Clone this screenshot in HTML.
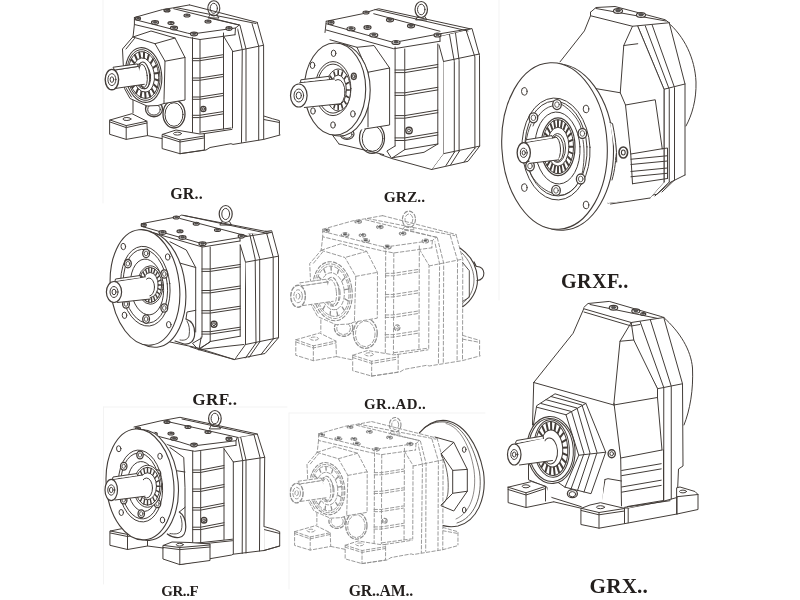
<!DOCTYPE html>
<html><head><meta charset="utf-8"><style>
html,body{margin:0;padding:0;background:#fff;width:800px;height:600px;overflow:hidden}
svg{position:absolute;left:0;top:0;filter:blur(0.35px)}
path,ellipse{vector-effect:non-scaling-stroke}
.lbl{font-family:"Liberation Serif",serif;font-weight:bold;fill:#231f1d}
</style></head><body>
<svg width="800" height="600" viewBox="0 0 800 600">
<g fill="none" stroke="#433d39" stroke-width="1" stroke-linejoin="round" stroke-linecap="round">
<path d="M263.7,116 L272.5,118.7 L279.4,120.6 L279.4,134.4 M263.7,119.5 L279.4,122.5"/>
<path d="M232.5,51.6 L237,26 L239.25,25 L257.25,22.4 L263.6,45.6 L263.7,139.4 L233,144.4Z" fill="#fff" stroke="none"/>
<path d="M257.25,22.4 L263.6,45.6 L263.7,139.4 M237,26 L242.25,49.75 L241.5,142.5 M240,25.4 L246,49 L246,141 M252,23.5 L258.75,46.4 L258.7,140 M232.5,51.6 L263.6,45.25"/>
<path d="M134.4,17.5 L162.4,9.6 L172.9,7.9 L189.5,4.9 L221.25,12.25 L257.25,22.4 L239.25,25 L235,34.75 L223.5,36.6 L232.5,51.6 L232.5,128 L200,132.5 L192.5,133 L133,113 L133,37Z" fill="#fff" stroke="none"/>
<path d="M134.4,17.5 L162.4,9.6 L172.9,7.9 L189.5,4.9 M133,37 L133,113 M134.4,17.5 L134.4,24.5 L189.5,37.6 L200,39.5 L235,34.75 M134.4,19.5 L187.7,33.2 L192,34 L235.5,28 L239.25,25 M173.7,8.7 L239.25,25 M189.5,4.9 L257.25,22.4 M175.5,7.5 L256,23.5 M210,18.25 L239.25,25 M235.5,28 L235,34.75"/>
<path d="M192.5,37.6 L192.5,133 M200,39.5 L200,133 M223.5,33 L223.5,129 M223.5,36 L232.5,51 L232.5,128 M134.4,24.5 L133,37"/>
<path d="M192.3,58.4 L199.7,58.4 L222.6,54.8 M192.3,60.7 L199.7,60.7 L222.6,57.1 M192.3,78 L199.7,78 L222.6,74.4 M192.3,80.3 L199.7,80.3 L222.6,76.7 M192.3,97 L199.7,97 L222.6,93.4 M192.3,99.3 L199.7,99.3 L222.6,95.7 M192.3,115.3 L199.7,115.3 L222.6,111.7 M192.3,117.6 L199.7,117.6 L222.6,114"/>
<ellipse cx="203.3" cy="108.9" rx="2.6" ry="2.6" stroke-width="1.3"/>
<ellipse cx="203.3" cy="108.9" rx="1.2" ry="1.2"/>
<ellipse cx="138" cy="18.5" rx="2.5" ry="1.6" fill="#fff" stroke-width="1.2"/>
<ellipse cx="138" cy="18.2" rx="1.38" ry="0.88" fill="#555" stroke-width="0.6"/>
<ellipse cx="155" cy="22.5" rx="3.5" ry="1.8" fill="#fff" stroke-width="1.2"/>
<ellipse cx="155" cy="22.2" rx="1.93" ry="0.99" fill="#555" stroke-width="0.6"/>
<ellipse cx="171" cy="23" rx="3" ry="1.5" fill="#fff" stroke-width="1.2"/>
<ellipse cx="171" cy="22.7" rx="1.65" ry="0.83" fill="#555" stroke-width="0.6"/>
<ellipse cx="174" cy="28" rx="3.5" ry="1.8" fill="#fff" stroke-width="1.2"/>
<ellipse cx="174" cy="27.7" rx="1.93" ry="0.99" fill="#555" stroke-width="0.6"/>
<ellipse cx="167" cy="10.5" rx="3" ry="1.4" fill="#fff" stroke-width="1.2"/>
<ellipse cx="167" cy="10.2" rx="1.65" ry="0.77" fill="#555" stroke-width="0.6"/>
<ellipse cx="187" cy="15.5" rx="3" ry="1.5" fill="#fff" stroke-width="1.2"/>
<ellipse cx="187" cy="15.2" rx="1.65" ry="0.83" fill="#555" stroke-width="0.6"/>
<ellipse cx="208" cy="21.5" rx="3" ry="1.5" fill="#fff" stroke-width="1.2"/>
<ellipse cx="208" cy="21.2" rx="1.65" ry="0.83" fill="#555" stroke-width="0.6"/>
<ellipse cx="194" cy="34" rx="3.5" ry="1.8" fill="#fff" stroke-width="1.2"/>
<ellipse cx="194" cy="33.7" rx="1.93" ry="0.99" fill="#555" stroke-width="0.6"/>
<ellipse cx="229" cy="28.5" rx="3" ry="1.8" fill="#fff" stroke-width="1.2"/>
<ellipse cx="229" cy="28.2" rx="1.65" ry="0.99" fill="#555" stroke-width="0.6"/>
<ellipse cx="213.8" cy="8.3" rx="6" ry="7.6" stroke-width="1.1"/>
<ellipse cx="213.8" cy="8.3" rx="3.6" ry="5"/>
<path d="M210,15 L208,18 L219,18 L217,15"/>
<ellipse cx="174" cy="114" rx="11" ry="14" fill="#fff" stroke-width="1.3"/>
<ellipse cx="174" cy="114.5" rx="9" ry="11.8"/>
<ellipse cx="154" cy="109" rx="8.5" ry="7.75" fill="#fff" stroke-width="1.3"/>
<ellipse cx="154" cy="109.5" rx="6.3" ry="5.6"/>
<path d="M110,120 L131.9,113.7 L146.9,121.2 L147.5,135.6 L126.2,139.4 L110,134.4Z" fill="#fff"/>
<path d="M110,120 L126.2,125.6 L146.9,121.2 M126.2,125.6 L126.2,139.4 M110,122 L126.2,127.6 L147,123"/>
<ellipse cx="126.9" cy="119" rx="4" ry="1.5"/>
<path d="M147.5,135.6 L162.5,138.7"/>
<path d="M162.5,134.4 L176,130 L200,134 L204.4,133.7 L204.4,150 L180,153.7 L162.5,148.7Z" fill="#fff"/>
<path d="M162.5,134.4 L180,140 L204.4,136 M180,140 L180,153.7 M162.5,136.5 L180,142 L204,138"/>
<ellipse cx="177.5" cy="133.6" rx="4" ry="1.5"/>
<path d="M180,153.7 L206,150 L210,147.5 L231,143.7 L233,144.4 L263.7,139.4 L280,135 M200.6,132 L231,128 M203.7,133.7 L231.9,129.4"/>
<path d="M133,37 L151,31 L175,38 L185,57.5 L185,100 L164,103.5 L158,105.5 L147,106 L138,102 L130,98.5 L124.5,88.5 L122.5,49.4Z" fill="#fff"/>
<path d="M133,37 L155,43.7 L165,61.2 L164,99.5 L164,103.5 M175,38 L155,43.7 M165,61.2 L185,57.5 M126,49 L134.5,38.5 M126,88 L131.5,97"/>
<ellipse cx="143.6" cy="75" rx="18" ry="27.5" fill="#fff" stroke-width="1.1" transform="rotate(-8 143.6 75)"/>
<ellipse cx="143.6" cy="75" rx="16.3" ry="25.5" transform="rotate(-8 143.6 75)"/>
<ellipse cx="143.6" cy="75" rx="15" ry="23.5" transform="rotate(-8 143.6 75)"/>
<path d="M158.06,72.97 L154.29,73.5 M158.31,80.47 L154.49,79.11 M156.98,87.39 L153.51,84.28 M154.19,92.96 L151.45,88.44 M150.25,96.58 L148.55,91.14 M145.6,97.87 L145.1,92.1 M140.72,96.67 L141.5,91.2 M136.16,93.13 L138.12,88.55 M132.41,87.63 L135.33,84.43 M129.87,80.75 L133.44,79.29 M128.81,73.26 L132.66,73.68 M129.36,65.95 L133.05,68.22 M131.45,59.62 L134.6,63.49 M134.86,54.96 L137.11,60.01 M139.22,52.47 L140.33,58.15 M144.05,52.42 L143.9,58.12 M148.83,54.82 L147.45,59.92 M153.04,59.41 L150.57,63.35 M156.24,65.68 L152.94,68.05" stroke-width="2.0"/>
<ellipse cx="143.6" cy="75" rx="10.8" ry="17.2" fill="#fff" transform="rotate(-8 143.6 75)"/>
<ellipse cx="142.6" cy="76" rx="8" ry="13" transform="rotate(-8 142.6 76)"/>
<ellipse cx="141.6" cy="76.5" rx="6.5" ry="10.5" transform="rotate(-8 141.6 76.5)"/>
<ellipse cx="143.9" cy="75.3" rx="5.7" ry="13.4" fill="#fff" stroke-width="1.1" transform="rotate(-6 143.9 75.3)"/>
<ellipse cx="143" cy="75.8" rx="4.2" ry="11.5" transform="rotate(-6 143 75.8)"/>
<path d="M112.5,70.5 L138.2,66.4 L144.3,84.3 L116.3,88.3Z" fill="#fff" stroke="none"/>
<path d="M115,70 L138.2,66.4 M116.3,88.3 L144.3,84.3"/>
<path d="M113.4,67.2 L137.4,63.9 L138.2,66.4 L115,70Z" fill="#fff"/>
<ellipse cx="111.9" cy="79.6" rx="6.7" ry="10.2" fill="#fff" stroke-width="1.4"/>
<ellipse cx="111.9" cy="79.6" rx="4" ry="6"/>
<ellipse cx="111.9" cy="79.6" rx="1.8" ry="2.8"/>
<path d="M443.5,61.5 L440.5,36 L472,28.5 L479.5,55.5 L479.7,146.1 L468,161.3 L431.6,169.5 L443.3,153.7Z" fill="#fff" stroke="none"/>
<path d="M440.5,36 L472,28.5 L479.5,55.5 L479.7,146.1 L468,161.3 L431.6,169.5 M443.5,61.5 L479.5,54 M449.5,34.5 L454.3,61.5 L454.3,152.3 M455.5,33 L459.1,60.5 L459.1,151.6 M466,30 L474.9,57 L474.9,148.2 M443.3,61.5 L443.3,153.7 L479.7,146.1 M443.3,153.7 L431.6,169.5 M454.3,152.3 L446,165.5 M459.1,151.6 L450.5,165 M474.9,148.2 L464,162"/>
<path d="M326.25,21.25 L373.75,10 L387.5,7 L470,28.75 L440.5,36 L443.5,61.5 L443.3,153.7 L431.6,169.5 L391.7,158.5 L380,154.4 L325,120 L325,32.5Z" fill="#fff" stroke="none"/>
<path d="M326.25,21.25 L362.5,13.75 L373.75,10 L378.75,8.75 L470,28.75 M373.75,13.75 L440,31.25 M375,9.5 L468,31 M326.25,21.25 L325,32.5 M326.25,23.75 L393.75,42.5 L440,33.75 L470,28.75 M326.25,30 L393.75,48.75 L440,41.25 M440,33.75 L440,41.25 M439,45 L443.5,61.5"/>
<path d="M395.1,47 L395.1,146 M404.75,49 L404.75,149.6 M437.8,44 L437.8,144 M404.75,149.6 L437.8,144 M395.1,146 L386.9,151 L391.7,158.5 M404.75,149.6 L392.4,157.8 M380,154.4 L391.7,158.5 L431.6,169.5 M392.4,157.8 L424,152.3 L437.8,144"/>
<path d="M395.1,70 L404.75,70 L437.8,64.5 M395.1,72.6 L404.75,72.6 L437.8,67.1 M395.1,92.8 L404.75,92.8 L437.8,87.3 M395.1,95.4 L404.75,95.4 L437.8,89.9 M395.1,115.6 L404.75,115.6 L437.8,110.1 M395.1,118.2 L404.75,118.2 L437.8,112.7 M395.1,137.9 L404.75,137.9 L437.8,132.4 M395.1,140.5 L404.75,140.5 L437.8,135"/>
<ellipse cx="409" cy="130.5" rx="3.2" ry="3.2" stroke-width="1.4"/>
<ellipse cx="409" cy="130.5" rx="1.5" ry="1.5"/>
<ellipse cx="331" cy="22.5" rx="3" ry="1.8" fill="#fff" stroke-width="1.2"/>
<ellipse cx="331" cy="22.2" rx="1.65" ry="0.99" fill="#555" stroke-width="0.6"/>
<ellipse cx="351" cy="28.75" rx="4" ry="2" fill="#fff" stroke-width="1.2"/>
<ellipse cx="351" cy="28.45" rx="2.2" ry="1.1" fill="#555" stroke-width="0.6"/>
<ellipse cx="367.5" cy="27.5" rx="3.5" ry="1.8" fill="#fff" stroke-width="1.2"/>
<ellipse cx="367.5" cy="27.2" rx="1.93" ry="0.99" fill="#555" stroke-width="0.6"/>
<ellipse cx="373.75" cy="35" rx="4" ry="2" fill="#fff" stroke-width="1.2"/>
<ellipse cx="373.75" cy="34.7" rx="2.2" ry="1.1" fill="#555" stroke-width="0.6"/>
<ellipse cx="390" cy="20" rx="3.5" ry="1.8" fill="#fff" stroke-width="1.2"/>
<ellipse cx="390" cy="19.7" rx="1.93" ry="0.99" fill="#555" stroke-width="0.6"/>
<ellipse cx="411" cy="26" rx="3.5" ry="1.8" fill="#fff" stroke-width="1.2"/>
<ellipse cx="411" cy="25.7" rx="1.93" ry="0.99" fill="#555" stroke-width="0.6"/>
<ellipse cx="396" cy="42.5" rx="4" ry="2" fill="#fff" stroke-width="1.2"/>
<ellipse cx="396" cy="42.2" rx="2.2" ry="1.1" fill="#555" stroke-width="0.6"/>
<ellipse cx="437.5" cy="35" rx="3.5" ry="2" fill="#fff" stroke-width="1.2"/>
<ellipse cx="437.5" cy="34.7" rx="1.93" ry="1.1" fill="#555" stroke-width="0.6"/>
<ellipse cx="366" cy="12.5" rx="3" ry="1.5" fill="#fff" stroke-width="1.2"/>
<ellipse cx="366" cy="12.2" rx="1.65" ry="0.83" fill="#555" stroke-width="0.6"/>
<ellipse cx="421.25" cy="9.5" rx="6.2" ry="8" stroke-width="1.2"/>
<ellipse cx="421.25" cy="9.5" rx="3.72" ry="5.28"/>
<path d="M417.53,16.7 L415.67,19.9 L426.83,19.9 L424.97,16.7"/>
<ellipse cx="372" cy="138" rx="12.5" ry="15.4" fill="#fff" stroke-width="1.2"/>
<ellipse cx="372.5" cy="138.5" rx="10.3" ry="12.8"/>
<ellipse cx="347" cy="134" rx="7" ry="5.5" fill="#fff" stroke-width="1.2"/>
<ellipse cx="347" cy="134.5" rx="5" ry="3.8"/>
<path d="M339,144 L332.75,135.5 M339,144 L383.75,154.6"/>
<path d="M330,39.75 L357,47.3 L360,45 L378,46 L389.6,68 L389.6,125 L364.7,129 L340,133 L320,60Z" fill="#fff" stroke="none"/>
<path d="M330,39.75 L357,47.3 L368,72.25 L368,127 M357,47.3 L374,45.5 L389.6,68 L389.6,125 L364.7,129 M368,72.25 L389.6,68"/>
<ellipse cx="339.5" cy="90" rx="30.7" ry="46" fill="#fff" stroke-width="1.1"/>
<ellipse cx="335" cy="89" rx="30.7" ry="46" fill="#fff" stroke-width="1.1"/>
<ellipse cx="333" cy="88.6" rx="17.9" ry="27"/>
<ellipse cx="333" cy="88.6" rx="16" ry="24.5"/>
<ellipse cx="333.6" cy="53.3" rx="2.3" ry="3.2"/>
<ellipse cx="312.5" cy="65.3" rx="2.3" ry="3.2"/>
<ellipse cx="352.9" cy="113.9" rx="2.3" ry="3.2"/>
<ellipse cx="333" cy="125" rx="2.3" ry="3.2"/>
<ellipse cx="313" cy="111" rx="2.3" ry="3.2"/>
<ellipse cx="353.8" cy="76.3" rx="2.5" ry="3.2" stroke-width="1.3"/>
<ellipse cx="353.8" cy="76.3" rx="1.2" ry="1.6"/>
<ellipse cx="338.2" cy="90" rx="12.4" ry="21" fill="#fff"/>
<path d="M349.4,90 L346.4,90 M348.55,97.46 L345.78,95.74 M346.12,103.79 L344,100.61 M342.49,108.02 L341.34,103.86 M338.2,109.5 L338.2,105 M333.91,108.02 L335.06,103.86 M330.28,103.79 L332.4,100.61 M327.85,97.46 L330.62,95.74 M327,90 L330,90 M327.85,82.54 L330.62,84.26 M330.28,76.21 L332.4,79.39 M333.91,71.98 L335.06,76.14 M338.2,70.5 L338.2,75 M342.49,71.98 L341.34,76.14 M346.12,76.21 L344,79.39 M348.55,82.54 L345.78,84.26" stroke-width="1.6"/>
<ellipse cx="338.2" cy="90" rx="8.2" ry="15" fill="#fff"/>
<ellipse cx="338" cy="92" rx="7" ry="12.5"/>
<path d="M299.7,82.7 L334.5,79 L340,103.8 L304.3,107.5Z" fill="#fff" stroke="none"/>
<path d="M299.7,82.7 L334.5,79 M304.3,107.5 L340,103.8"/>
<path d="M300.6,82 L300.8,79.8 L329,76.3 L329.5,79" fill="#fff"/>
<ellipse cx="298.8" cy="95.5" rx="8.3" ry="11.5" fill="#fff" stroke-width="1.2"/>
<ellipse cx="298.8" cy="95.5" rx="4.8" ry="6.5"/>
<ellipse cx="298.8" cy="95.5" rx="2.6" ry="3.5"/>
<path d="M668,22.5 C684,36 695,58 696,82 C696.5,100 692,115 686,126" fill="#fff"/>
<path d="M637.75,26.25 L669.25,22.75 L685,84 L685,175 L671,182 L657,194.25 L608,203 L664,89.25Z" fill="#fff" stroke="none"/>
<path d="M637.75,26.25 L664,89.25 L664,182 M644.75,24.5 L669.25,89.25 L669.25,182 M651.75,23.8 L674.5,87.5 L674.5,180 M669.25,22.75 L685,84 L685,175 M664,89.25 L685,84 M685,175 L671,182 M664,182 L650,198 M669.25,182 L655,196 M674.5,180 L662,192 M671,182 L657,194.25 L608,203"/>
<path d="M590.5,12.25 L596,7.5 L665,19.7 L669.25,22.75 L637.75,26.25 L664,89.25 L664,182 L650,198 L608,203 L560,61.9 L584.4,30.9Z" fill="#fff" stroke="none"/>
<path d="M637.75,26.25 L664,89.25 L664,182 M590.5,12.25 L596,7.5 L615,6.5 L665,19.7 L669.25,22.75 M590.5,15.75 L632.5,26.25 L669.25,22.75 M596,8.5 L666,21 M590.5,12.25 L590.5,15.75 L584.4,30.9 L560,61.9 M632.5,26.25 L623.75,45.5 L620.25,92.75 M623.75,45.5 L637.75,43.75 M592.8,88.1 L620.25,92.75 L625.5,105 L630.75,154 L632.5,183.75 M625.5,105 L655.25,99.75 L662.25,148.75 M630.75,154 L662.25,148.75 M632.5,183.75 L667.5,178.5 M662.25,148.75 L667.5,148 L667.5,178.5"/>
<path d="M630.75,159.25 L630.75,159.25 L667.5,155.75 M630.75,164.5 L630.75,164.5 L667.5,161 M630.75,171.5 L630.75,171.5 L667.5,168 M630.75,176.75 L630.75,176.75 L667.5,173.25"/>
<path d="M610.5,204 L650,198"/>
<ellipse cx="623.3" cy="152.5" rx="4.3" ry="5.5" fill="#fff" stroke-width="1.6"/>
<ellipse cx="623.3" cy="152.5" rx="1.9" ry="2.5" stroke-width="1.1"/>
<ellipse cx="618" cy="11" rx="4.5" ry="2.4" fill="#fff" stroke-width="1.2"/>
<ellipse cx="618" cy="10.7" rx="2.48" ry="1.32" fill="#555" stroke-width="0.6"/>
<ellipse cx="641" cy="15" rx="4.5" ry="2.4" fill="#fff" stroke-width="1.2"/>
<ellipse cx="641" cy="14.7" rx="2.48" ry="1.32" fill="#555" stroke-width="0.6"/>
<path d="M610,125 C617,135 618,160 612,180" fill="#fff"/>
<ellipse cx="559" cy="147" rx="54.4" ry="83.3" fill="#fff" stroke-width="1.1" transform="rotate(-3 559 147)"/>
<path d="M610,122.5 L612.5,123.5 C615,135 617,150 616.7,162" fill="#fff"/>
<ellipse cx="554.5" cy="146" rx="52.7" ry="83.3" fill="#fff" stroke-width="1.1" transform="rotate(-3 554.5 146)"/>
<ellipse cx="524.3" cy="91.4" rx="2.8" ry="3.8" transform="rotate(-3 524.3 91.4)"/>
<ellipse cx="586" cy="109" rx="2.8" ry="3.8" transform="rotate(-3 586 109)"/>
<ellipse cx="524.3" cy="187.6" rx="2.8" ry="3.8" transform="rotate(-3 524.3 187.6)"/>
<ellipse cx="586" cy="205" rx="2.8" ry="3.8" transform="rotate(-3 586 205)"/>
<ellipse cx="556" cy="149" rx="34" ry="51" fill="#fff" transform="rotate(-3 556 149)"/>
<ellipse cx="556" cy="148.5" rx="31" ry="47.5" transform="rotate(-3 556 148.5)"/>
<path d="M533,126 C538,112 548,106 553,106 M561,104 C572,110 580,122 581,128 M583,140 C585,152 584,165 582,174 M577,185 C570,194 563,196 559,195 M552,193 C542,190 533,180 530,172 M527,162 C524,150 526,135 531,124" stroke-width="0.9"/>
<ellipse cx="557.5" cy="148" rx="22.5" ry="36" transform="rotate(-3 557.5 148)"/>
<ellipse cx="557" cy="104.6" rx="4.3" ry="5" fill="#fff" stroke-width="1.3"/>
<ellipse cx="557" cy="104.6" rx="2.3" ry="2.8" stroke-width="0.8"/>
<ellipse cx="533.4" cy="117.8" rx="4.3" ry="5" fill="#fff" stroke-width="1.3"/>
<ellipse cx="533.4" cy="117.8" rx="2.3" ry="2.8" stroke-width="0.8"/>
<ellipse cx="582.4" cy="133.5" rx="4.3" ry="5" fill="#fff" stroke-width="1.3"/>
<ellipse cx="582.4" cy="133.5" rx="2.3" ry="2.8" stroke-width="0.8"/>
<ellipse cx="580.7" cy="179" rx="4.3" ry="5" fill="#fff" stroke-width="1.3"/>
<ellipse cx="580.7" cy="179" rx="2.3" ry="2.8" stroke-width="0.8"/>
<ellipse cx="556" cy="190.4" rx="4.3" ry="5" fill="#fff" stroke-width="1.3"/>
<ellipse cx="556" cy="190.4" rx="2.3" ry="2.8" stroke-width="0.8"/>
<ellipse cx="530" cy="166" rx="4.3" ry="5" fill="#fff" stroke-width="1.3"/>
<ellipse cx="530" cy="166" rx="2.3" ry="2.8" stroke-width="0.8"/>
<ellipse cx="558" cy="146.7" rx="17" ry="28.9" fill="#fff" stroke-width="1.2"/>
<ellipse cx="558" cy="146.7" rx="15.5" ry="27"/>
<path d="M573,146.7 L569,146.7 M572.49,153.51 L568.63,151.75 M570.99,159.85 L567.53,156.45 M568.61,165.3 L565.78,160.49 M565.5,169.48 L563.5,163.59 M561.88,172.1 L560.85,165.54 M558,173 L558,166.2 M554.12,172.1 L555.15,165.54 M550.5,169.48 L552.5,163.59 M547.39,165.3 L550.22,160.49 M545.01,159.85 L548.47,156.45 M543.51,153.51 L547.37,151.75 M543,146.7 L547,146.7 M543.51,139.89 L547.37,141.65 M545.01,133.55 L548.47,136.95 M547.39,128.1 L550.22,132.91 M550.5,123.92 L552.5,129.81 M554.12,121.3 L555.15,127.86 M558,120.4 L558,127.2 M561.88,121.3 L560.85,127.86 M565.5,123.92 L563.5,129.81 M568.61,128.1 L565.78,132.91 M570.99,133.55 L567.53,136.95 M572.49,139.89 L568.63,141.65" stroke-width="1.9"/>
<ellipse cx="558" cy="146.7" rx="11" ry="19.5" fill="#fff"/>
<ellipse cx="557.5" cy="148" rx="8" ry="14.5"/>
<ellipse cx="557" cy="148.5" rx="6.5" ry="13" fill="#fff" transform="rotate(-3 557 148.5)"/>
<ellipse cx="556" cy="148.5" rx="4.5" ry="11.5" transform="rotate(-3 556 148.5)"/>
<path d="M525.5,142.5 L555.3,137.5 L558.8,159.8 L529.9,163.3Z" fill="#fff" stroke="none"/>
<path d="M525.5,142.5 L555.3,137.5 M529.9,163.3 L558.8,159.8"/>
<path d="M525.5,142 L526,139.8 L552,135.6 L552.5,138" fill="#fff"/>
<ellipse cx="523.75" cy="152.8" rx="6.6" ry="10.2" fill="#fff" stroke-width="1.3"/>
<ellipse cx="523.75" cy="152.8" rx="3.4" ry="4.6"/>
<ellipse cx="523.75" cy="152.8" rx="1.6" ry="2.2"/>
<path d="M245.5,262.2 L247.7,233.7 L271.7,230.7 L278.5,256.2 L278.5,337.7 L265,353.5 L234.2,359.5 L244,344.5Z" fill="#fff" stroke="none"/>
<path d="M247.7,233.7 L271.7,230.7 L278.5,256.2 L278.5,337.7 L265,353.5 L234.2,359.5 M245.5,262.2 L278.5,256.2 M249.5,233 L255.2,259 L256,343 M252,232.5 L259.7,258.5 L259.7,342 M266,231 L273.2,257 L273.2,339 M245.5,262 L245.5,344.5 L278.5,337.7 M245.5,344.5 L235,359 M256,343 L245.5,358 M259.7,342 L249,357.5 M273.2,339 L261,354.5"/>
<path d="M141.25,223.75 L180,216.25 L181.25,215 L271.25,232.5 L247.7,233.7 L245.5,262.2 L244,344.5 L234.2,359.5 L199,349.7 L190,346.7 L141,320 L141,232Z" fill="#fff" stroke="none"/>
<path d="M141.25,223.75 L180,216.25 L181.25,215 L271.25,232.5 M180,218.5 L247,236 M184,215.5 L268,233.5 M141.25,226.25 L202.5,243.75 L240,237.5 L271.25,232.5 M141.25,229.5 L202.5,247 L240,241 M240,237.5 L240,241 M240.2,245 L245.5,262.2"/>
<path d="M202,246.5 L202,337 M210.2,247 L210.2,341.5 M240.2,245 L240.2,336.2 M210.2,341.5 L240.2,336.2 M201.2,337 L199,349.7 M210.2,341.5 L199,349.7 M190,346.7 L199,349.7 L234.2,359.5 M199,349.7 L230,346 L244,344.5"/>
<path d="M202,269 L210.2,269 L240.2,264.5 M202,271.4 L210.2,271.4 L240.2,266.9 M202,290.5 L210.2,290.5 L240.2,286 M202,292.9 L210.2,292.9 L240.2,288.4 M202,310.7 L210.2,310.7 L240.2,306.2 M202,313.1 L210.2,313.1 L240.2,308.6 M202,331.7 L210.2,331.7 L240.2,327.2 M202,334.1 L210.2,334.1 L240.2,329.6"/>
<ellipse cx="214" cy="324.2" rx="3" ry="3" stroke-width="1.4"/>
<ellipse cx="214" cy="324.2" rx="1.4" ry="1.4"/>
<ellipse cx="143.75" cy="225" rx="2.5" ry="1.6" fill="#fff" stroke-width="1.2"/>
<ellipse cx="143.75" cy="224.7" rx="1.38" ry="0.88" fill="#555" stroke-width="0.6"/>
<ellipse cx="162.5" cy="232.5" rx="3.5" ry="1.8" fill="#fff" stroke-width="1.2"/>
<ellipse cx="162.5" cy="232.2" rx="1.93" ry="0.99" fill="#555" stroke-width="0.6"/>
<ellipse cx="180" cy="231.25" rx="3" ry="1.5" fill="#fff" stroke-width="1.2"/>
<ellipse cx="180" cy="230.95" rx="1.65" ry="0.83" fill="#555" stroke-width="0.6"/>
<ellipse cx="182.5" cy="237.5" rx="3.5" ry="1.8" fill="#fff" stroke-width="1.2"/>
<ellipse cx="182.5" cy="237.2" rx="1.93" ry="0.99" fill="#555" stroke-width="0.6"/>
<ellipse cx="176.25" cy="217.5" rx="3" ry="1.5" fill="#fff" stroke-width="1.2"/>
<ellipse cx="176.25" cy="217.2" rx="1.65" ry="0.83" fill="#555" stroke-width="0.6"/>
<ellipse cx="196.25" cy="223.75" rx="3" ry="1.5" fill="#fff" stroke-width="1.2"/>
<ellipse cx="196.25" cy="223.45" rx="1.65" ry="0.83" fill="#555" stroke-width="0.6"/>
<ellipse cx="217.5" cy="230" rx="3" ry="1.5" fill="#fff" stroke-width="1.2"/>
<ellipse cx="217.5" cy="229.7" rx="1.65" ry="0.83" fill="#555" stroke-width="0.6"/>
<ellipse cx="202.5" cy="243.75" rx="3.5" ry="1.8" fill="#fff" stroke-width="1.2"/>
<ellipse cx="202.5" cy="243.45" rx="1.93" ry="0.99" fill="#555" stroke-width="0.6"/>
<ellipse cx="241.25" cy="236.25" rx="3" ry="1.8" fill="#fff" stroke-width="1.2"/>
<ellipse cx="241.25" cy="235.95" rx="1.65" ry="0.99" fill="#555" stroke-width="0.6"/>
<ellipse cx="225.7" cy="214" rx="6.5" ry="8.5" stroke-width="1.2"/>
<ellipse cx="225.7" cy="214" rx="3.9" ry="5.61"/>
<path d="M221.8,221.65 L219.85,225.05 L231.55,225.05 L229.6,221.65"/>
<path d="M150,232 L170,241.8 L186.3,250 L195.7,267.5 L195.7,330 L170,335 L140,330 L135,240Z" fill="#fff" stroke="none"/>
<path d="M170,241.8 L186.3,250 L195.7,267.5 L195.7,332 M176,262 L195.7,267.5"/>
<path d="M195.75,310.3 L187,312 L186,319"/>
<path d="M186,319 C192,321 194.7,327 194.7,333 C194.7,341 190,345 184,344 L175,341" fill="#fff" stroke-width="1.2"/>
<path d="M187,321 C189.5,325 190,330 189,336 C188,339 185,341 180,340" stroke-width="0.9"/>
<path d="M170,342 L196.8,347.7 L234.2,359.5 M201.7,338 L192.5,343.3 L198,349.3 L209.8,342.3"/>
<ellipse cx="151" cy="289.5" rx="34.5" ry="58" fill="#fff" stroke-width="1.1" transform="rotate(-6 151 289.5)"/>
<ellipse cx="145" cy="287.4" rx="34.5" ry="58" fill="#fff" stroke-width="1.1" transform="rotate(-6 145 287.4)"/>
<ellipse cx="123.3" cy="246.5" rx="2.3" ry="3.2" transform="rotate(-6 123.3 246.5)"/>
<ellipse cx="167.7" cy="257" rx="2.3" ry="3.2" transform="rotate(-6 167.7 257)"/>
<ellipse cx="124.5" cy="315.3" rx="2.3" ry="3.2" transform="rotate(-6 124.5 315.3)"/>
<ellipse cx="168.8" cy="324.7" rx="2.3" ry="3.2" transform="rotate(-6 168.8 324.7)"/>
<ellipse cx="145.4" cy="286.2" rx="24.5" ry="40" fill="#fff" transform="rotate(-6 145.4 286.2)"/>
<ellipse cx="145.4" cy="286.2" rx="22" ry="37" transform="rotate(-6 145.4 286.2)"/>
<ellipse cx="147" cy="287" rx="16.5" ry="28" transform="rotate(-6 147 287)"/>
<ellipse cx="146.1" cy="253.4" rx="3.4" ry="4.2" fill="#fff" stroke-width="1.3"/>
<ellipse cx="146.1" cy="253.4" rx="1.8" ry="2.3" stroke-width="0.8"/>
<ellipse cx="127.9" cy="263.7" rx="3.4" ry="4.2" fill="#fff" stroke-width="1.3"/>
<ellipse cx="127.9" cy="263.7" rx="1.8" ry="2.3" stroke-width="0.8"/>
<ellipse cx="164.3" cy="274" rx="3.4" ry="4.2" fill="#fff" stroke-width="1.3"/>
<ellipse cx="164.3" cy="274" rx="1.8" ry="2.3" stroke-width="0.8"/>
<ellipse cx="164.3" cy="308" rx="3.4" ry="4.2" fill="#fff" stroke-width="1.3"/>
<ellipse cx="164.3" cy="308" rx="1.8" ry="2.3" stroke-width="0.8"/>
<ellipse cx="146.1" cy="319.1" rx="3.4" ry="4.2" fill="#fff" stroke-width="1.3"/>
<ellipse cx="146.1" cy="319.1" rx="1.8" ry="2.3" stroke-width="0.8"/>
<ellipse cx="126" cy="304" rx="3.4" ry="4.2" fill="#fff" stroke-width="1.3"/>
<ellipse cx="126" cy="304" rx="1.8" ry="2.3" stroke-width="0.8"/>
<ellipse cx="150.2" cy="285" rx="12.8" ry="19.2" fill="#fff"/>
<ellipse cx="150.2" cy="285" rx="11.5" ry="17.5"/>
<path d="M161.2,285 L158.2,285 M160.75,289.79 L157.88,288.52 M159.45,294.19 L156.93,291.76 M157.4,297.85 L155.44,294.45 M154.77,300.46 L153.52,296.37 M151.77,301.83 L151.34,297.37 M148.63,301.83 L149.06,297.37 M145.63,300.46 L146.88,296.37 M143,297.85 L144.96,294.45 M140.95,294.19 L143.47,291.76 M139.65,289.79 L142.52,288.52 M139.2,285 L142.2,285 M139.65,280.21 L142.52,281.48 M140.95,275.81 L143.47,278.24 M143,272.15 L144.96,275.55 M145.63,269.54 L146.88,273.63 M148.63,268.17 L149.06,272.63 M151.77,268.17 L151.34,272.63 M154.77,269.54 L153.52,273.63 M157.4,272.15 L155.44,275.55 M159.45,275.81 L156.93,278.24 M160.75,280.21 L157.88,281.48" stroke-width="1.4"/>
<ellipse cx="150.2" cy="285" rx="8" ry="12.5" fill="#fff"/>
<ellipse cx="149" cy="287" rx="5.5" ry="9"/>
<path d="M115.2,281.5 L145.5,276.8 L150.2,299 L117.5,302.5Z" fill="#fff" stroke="none"/>
<path d="M115.2,281.5 L145.5,276.8 M117.5,302.5 L150.2,299"/>
<path d="M115,281 L115.5,279 L140,275.5 L140.5,277.5" fill="#fff"/>
<ellipse cx="114" cy="292" rx="7.6" ry="10.5" fill="#fff" stroke-width="1.2"/>
<ellipse cx="114" cy="292" rx="4" ry="5.5"/>
<ellipse cx="114" cy="292" rx="2" ry="2.8"/>
<path d="M264,526.5 L274.5,529.5 L279.7,531.7 L279.7,546 L264,550.5Z" fill="#fff"/>
<path d="M264,529.5 L279.7,533.5"/>
<path d="M233.3,462 L238,438 L257.3,434 L264.7,457.3 L264,550.5 L233.2,554.2Z" fill="#fff" stroke="none"/>
<path d="M237.3,437.3 L257.3,434 L264.7,457.3 L264,526.5 M238,438 L242.7,460.7 L242.2,553.5 M240.7,437.3 L246,460 L246,553 M254,434.7 L260,457.3 L259.5,551 M233.3,462 L264.7,457.3"/>
<path d="M134,428 L180,417.3 L257.3,434 L237.3,437.3 L236,445.3 L224,448.7 L233.3,462 L233.2,554.2 L204.7,560.2 L130,530Z" fill="#fff" stroke="none"/>
<path d="M134,427 L160,421 L180,417.3 L257.3,434 M165,421 L237.3,437.3 M182,419 L254,434.7 M134,430 L180,442 L192.7,446 L236,440.7 L237.3,437.3 M134,434 L180,448.7 L194.7,451.3 L236,445.3 M236,440.7 L236,445.3 M224,448.7 L233.3,462"/>
<path d="M192.7,451 L192.7,543.5 M200.7,451.5 L200.7,543.5 M224,448.7 L224,539.5 M233.3,462 L233.3,554 M180,546.7 L204,543.7 L232.5,540.7 M192.7,543.5 L232.5,539.2 M204.7,543.7 L204.7,560.2 M163,548 L180,546.7"/>
<path d="M179.8,564.6 L204.7,560.2 L210,558.7 L231.7,555 L233.2,554.2 L264,550.5 L279.7,546"/>
<path d="M192.7,470 L200.7,470 L224,465.5 M192.7,472.4 L200.7,472.4 L224,467.9 M192.7,489 L200.7,489 L224,484.5 M192.7,491.4 L200.7,491.4 L224,486.9 M192.7,507.7 L200.7,507.7 L224,503.2 M192.7,510.1 L200.7,510.1 L224,505.6 M192.7,527.2 L200.7,527.2 L224,522.7 M192.7,529.6 L200.7,529.6 L224,525.1"/>
<ellipse cx="204" cy="520.2" rx="2.8" ry="2.8" stroke-width="1.4"/>
<ellipse cx="204" cy="520.2" rx="1.3" ry="1.3"/>
<ellipse cx="138" cy="428.5" rx="2.5" ry="1.5" fill="#fff" stroke-width="1.2"/>
<ellipse cx="138" cy="428.2" rx="1.38" ry="0.83" fill="#555" stroke-width="0.6"/>
<ellipse cx="154" cy="434" rx="3.3" ry="1.7" fill="#fff" stroke-width="1.2"/>
<ellipse cx="154" cy="433.7" rx="1.81" ry="0.94" fill="#555" stroke-width="0.6"/>
<ellipse cx="171" cy="433.5" rx="3" ry="1.5" fill="#fff" stroke-width="1.2"/>
<ellipse cx="171" cy="433.2" rx="1.65" ry="0.83" fill="#555" stroke-width="0.6"/>
<ellipse cx="174" cy="438.5" rx="3.3" ry="1.7" fill="#fff" stroke-width="1.2"/>
<ellipse cx="174" cy="438.2" rx="1.81" ry="0.94" fill="#555" stroke-width="0.6"/>
<ellipse cx="167" cy="422" rx="3" ry="1.4" fill="#fff" stroke-width="1.2"/>
<ellipse cx="167" cy="421.7" rx="1.65" ry="0.77" fill="#555" stroke-width="0.6"/>
<ellipse cx="188" cy="427" rx="3" ry="1.5" fill="#fff" stroke-width="1.2"/>
<ellipse cx="188" cy="426.7" rx="1.65" ry="0.83" fill="#555" stroke-width="0.6"/>
<ellipse cx="208" cy="432" rx="3" ry="1.5" fill="#fff" stroke-width="1.2"/>
<ellipse cx="208" cy="431.7" rx="1.65" ry="0.83" fill="#555" stroke-width="0.6"/>
<ellipse cx="194" cy="445" rx="3.3" ry="1.8" fill="#fff" stroke-width="1.2"/>
<ellipse cx="194" cy="444.7" rx="1.81" ry="0.99" fill="#555" stroke-width="0.6"/>
<ellipse cx="229" cy="439" rx="3" ry="1.8" fill="#fff" stroke-width="1.2"/>
<ellipse cx="229" cy="438.7" rx="1.65" ry="0.99" fill="#555" stroke-width="0.6"/>
<ellipse cx="214.9" cy="418.5" rx="6.3" ry="8" stroke-width="1.2"/>
<ellipse cx="214.9" cy="418.5" rx="3.78" ry="5.28"/>
<path d="M211.12,425.7 L209.23,428.9 L220.57,428.9 L218.68,425.7"/>
<path d="M163.3,545.4 L172,542 L190,542.5 L210,544 L210,560.5 L179.8,564.6 L163.3,559.1Z" fill="#fff"/>
<path d="M163.3,545.4 L179.8,547.5 L210,545 M179.8,547.5 L179.8,564.6 M163.3,547.5 L179.8,549.6 L210,547"/>
<ellipse cx="179.8" cy="544.7" rx="3.5" ry="1.4"/>
<path d="M110.3,531 L130,527 L147.5,533 L147.5,546 L127.5,549.5 L110.3,545.4Z" fill="#fff"/>
<path d="M110.3,531 L127.5,534.4 L147.5,531 M127.5,534.4 L127.5,549.5 M110.3,533 L127.5,536.5 L147.5,533 M147.5,546 L163,548"/>
<path d="M150,428 L170,447.5 L183.75,457.5 L185,487.5 L185,520 L160,530 L130,520 L125,440Z" fill="#fff" stroke="none"/>
<path d="M170,447.5 L183.75,457.5 L185,487.5 L185,522 M172,470 L185,472"/>
<path d="M185,507.3 L179.3,512"/>
<path d="M179.3,512 C184,515 185.8,521 185.8,527 C185.8,533 183,537 179,537.5 C175,538 170,536 167.3,534" fill="#fff" stroke-width="1.2"/>
<path d="M180.5,516 C182.5,521 182.5,527 181,531 C179,534 175,534.5 170,533.5" stroke-width="0.9"/>
<ellipse cx="144.5" cy="485" rx="33.75" ry="55.6" fill="#fff" stroke-width="1.1" transform="rotate(-5 144.5 485)"/>
<ellipse cx="140" cy="484.4" rx="33.75" ry="55.6" fill="#fff" stroke-width="1.1" transform="rotate(-5 140 484.4)"/>
<ellipse cx="118.75" cy="448.75" rx="2.2" ry="3" transform="rotate(-5 118.75 448.75)"/>
<ellipse cx="160" cy="456.25" rx="2.2" ry="3" transform="rotate(-5 160 456.25)"/>
<ellipse cx="121.25" cy="512.5" rx="2.2" ry="3" transform="rotate(-5 121.25 512.5)"/>
<ellipse cx="162.5" cy="520" rx="2.2" ry="3" transform="rotate(-5 162.5 520)"/>
<ellipse cx="140.5" cy="486" rx="22" ry="36" fill="#fff" transform="rotate(-5 140.5 486)"/>
<ellipse cx="140.5" cy="486" rx="19.5" ry="33" transform="rotate(-5 140.5 486)"/>
<ellipse cx="142.5" cy="486.5" rx="15" ry="25" transform="rotate(-5 142.5 486.5)"/>
<ellipse cx="140" cy="455" rx="3.2" ry="3.9" fill="#fff" stroke-width="1.3"/>
<ellipse cx="140" cy="455" rx="1.7" ry="2.1" stroke-width="0.8"/>
<ellipse cx="123.75" cy="466.25" rx="3.2" ry="3.9" fill="#fff" stroke-width="1.3"/>
<ellipse cx="123.75" cy="466.25" rx="1.7" ry="2.1" stroke-width="0.8"/>
<ellipse cx="157.5" cy="473.75" rx="3.2" ry="3.9" fill="#fff" stroke-width="1.3"/>
<ellipse cx="157.5" cy="473.75" rx="1.7" ry="2.1" stroke-width="0.8"/>
<ellipse cx="157.5" cy="503.75" rx="3.2" ry="3.9" fill="#fff" stroke-width="1.3"/>
<ellipse cx="157.5" cy="503.75" rx="1.7" ry="2.1" stroke-width="0.8"/>
<ellipse cx="141.25" cy="513.75" rx="3.2" ry="3.9" fill="#fff" stroke-width="1.3"/>
<ellipse cx="141.25" cy="513.75" rx="1.7" ry="2.1" stroke-width="0.8"/>
<ellipse cx="123.75" cy="500" rx="3.2" ry="3.9" fill="#fff" stroke-width="1.3"/>
<ellipse cx="123.75" cy="500" rx="1.7" ry="2.1" stroke-width="0.8"/>
<ellipse cx="147.5" cy="486.25" rx="14" ry="21" fill="#fff"/>
<ellipse cx="147.5" cy="486.25" rx="12.5" ry="19"/>
<path d="M159.5,486.25 L156.5,486.25 M158.91,491.97 L156.06,490.42 M157.21,497.12 L154.78,494.19 M154.55,501.22 L152.79,497.17 M151.21,503.84 L150.28,499.09 M147.5,504.75 L147.5,499.75 M143.79,503.84 L144.72,499.09 M140.45,501.22 L142.21,497.17 M137.79,497.12 L140.22,494.19 M136.09,491.97 L138.94,490.42 M135.5,486.25 L138.5,486.25 M136.09,480.53 L138.94,482.08 M137.79,475.38 L140.22,478.31 M140.45,471.28 L142.21,475.33 M143.79,468.66 L144.72,473.41 M147.5,467.75 L147.5,472.75 M151.21,468.66 L150.28,473.41 M154.55,471.28 L152.79,475.33 M157.21,475.38 L154.78,478.31 M158.91,480.53 L156.06,482.08" stroke-width="1.4"/>
<ellipse cx="147.5" cy="486.25" rx="9" ry="13.5" fill="#fff"/>
<ellipse cx="146.5" cy="488" rx="6" ry="10"/>
<path d="M112.5,479.5 L142.5,475 L145,496.25 L115,500Z" fill="#fff" stroke="none"/>
<path d="M112.5,479.5 L142.5,475 M115,500 L145,496.25"/>
<path d="M112.5,479 L113,477 L137,473.5 L137.5,475.5" fill="#fff"/>
<ellipse cx="111.25" cy="490" rx="6.25" ry="10.6" fill="#fff" stroke-width="1.2"/>
<ellipse cx="111.25" cy="490" rx="3.5" ry="5.2"/>
<ellipse cx="111.25" cy="490" rx="1.8" ry="2.6"/>
<path d="M663.75,317.5 C680,332 691,350 692.5,368 C693.5,390 690,410 684,425" fill="#fff"/>
<path d="M632.5,322.5 L663.75,317.5 L682.5,383.75 L683,466 L678,467.3 L677,514 L628.2,523 L628.2,508 L663.5,500.5 L657.5,388.75Z" fill="#fff" stroke="none"/>
<path d="M632.5,322.5 L633.75,340 L657.5,388.75 L657.5,397.5 M640,321.25 L663.75,387.5 L663.75,500.5 M650,318.75 L671.25,386.25 L671.25,499 M663.75,317.5 L682.5,383.75 L683,466 L678.5,469 L677.7,487.7 M657.5,388.75 L682.5,383.75"/>
<path d="M677,487.7 L680,487 L695,491.5 L698,494.5 L698,509.5 L677,514Z" fill="#fff"/>
<path d="M677,496.7 L698,494.5 M677,497.5 L677,514"/>
<ellipse cx="683" cy="491.5" rx="3.5" ry="1.4"/>
<path d="M628.2,508 L663.5,501.2 L677,497.5 M628.2,523 L677,514"/>
<path d="M583.75,307.5 L588,303.5 L609.25,301.4 L660.25,316.25 L663.75,317.5 L632.5,322.5 L657.5,388.75 L663.5,500.5 L628.2,508 L599,505 L547,496 L528.5,480 L533.8,382.1 L573.1,333.25Z" fill="#fff" stroke="none"/>
<path d="M583.75,307.5 L588,303.5 L609.25,301.4 L660.25,316.25 L663.75,317.5 M583.75,308.75 L631.25,322.5 L663.75,317.5 M584,312 L631.25,326 L640,324.5 M590,304.5 L658,318.5 M583.75,308.75 L573.1,333.25 L533.75,382.5 M631.25,322.5 L620,341.25 L613.75,405 M620,341.25 L633.75,340 M631.25,322.5 L633.75,340 L657.5,388.75 L657.5,397.5 M533.75,382.5 L613.75,405 L657.5,397.5 M657.5,397.5 L662,450 M533.75,382.5 L532.5,425"/>
<path d="M620.7,458 L662,450 M614,403.3 L620.7,458 L621.5,506.5 M605,479.5 L601.2,502 M605,479.5 L608,478.7 L621.5,481 M627.5,506.5 L663.5,500.5 M663.5,450 L663.5,500.5"/>
<path d="M621.5,470.5 L621.5,470.5 L661.2,463.7 M621.5,475.7 L621.5,475.7 L661.2,468.9 M621.5,487 L621.5,487 L661.2,480.2 M621.5,492.2 L621.5,492.2 L661.2,485.4"/>
<ellipse cx="613.5" cy="307.75" rx="4.2" ry="2.3" fill="#fff" stroke-width="1.2"/>
<ellipse cx="613.5" cy="307.45" rx="2.31" ry="1.26" fill="#555" stroke-width="0.6"/>
<ellipse cx="635.8" cy="311" rx="4" ry="2.2" fill="#fff" stroke-width="1.2"/>
<ellipse cx="635.8" cy="310.7" rx="2.2" ry="1.21" fill="#555" stroke-width="0.6"/>
<ellipse cx="643.25" cy="314" rx="2.5" ry="1.5" fill="#fff" stroke-width="1.2"/>
<ellipse cx="643.25" cy="313.7" rx="1.38" ry="0.83" fill="#555" stroke-width="0.6"/>
<ellipse cx="611.7" cy="453.7" rx="3.6" ry="4" stroke-width="1.4"/>
<ellipse cx="611.7" cy="453.7" rx="1.8" ry="2"/>
<path d="M528.5,464 L547,470 L575,480 L604,479 L602.4,501 L624.7,507.3 L581.3,506.7 L547,496 L528.5,480Z" fill="#fff" stroke="none"/>
<path d="M528.5,464.4 L528.5,479.8 L547,487.2 L547,496 L581.3,506.7 M624.7,507.3 L670,500.7 M553.7,501.8 L581.3,508.3"/>
<ellipse cx="572.4" cy="493.7" rx="5" ry="4" fill="#fff" stroke-width="1.3"/>
<ellipse cx="572.4" cy="494.2" rx="3.3" ry="2.6"/>
<path d="M508.1,487.2 L531.7,481.5 L545.5,486.3 L553.7,501.8 L526,507.5 L508.1,502.6Z" fill="#fff" stroke="none"/>
<path d="M508.1,487.2 L531.7,481.5 L545.5,486.3 M508.1,487.2 L526,492.8 L545.5,486.3 L545.5,501 M526,492.8 L526,507.5 M508.1,487.2 L508.1,502.6 L526,507.5 L553.7,501.8 M508.1,489.5 L526,495 L545.5,488.5"/>
<ellipse cx="526" cy="486.3" rx="3.8" ry="1.5"/>
<path d="M581.3,508.3 L590,505 L600.5,502.7 L623,508 L628.2,508 L628.2,523 L599,528.2 L581.3,524.6Z" fill="#fff"/>
<path d="M581.3,508.3 L599,512.5 L624.5,508.5 M599,512.5 L599,528.2 M581.3,510.5 L599,514.8 L624.5,511 M624.5,508.5 L624.5,523.5"/>
<ellipse cx="600.5" cy="507.2" rx="4" ry="1.5"/>
<path d="M537,405.5 L555,393.8 L585.9,403.4 L605.7,452.2 L591,493.7 L565,487.2 L540,470 L531,440Z" fill="#fff"/>
<path d="M536.7,407.2 L566,414.75 L578.75,455.25 L565,487.2 M541,403.5 L571.5,411.5 L584,453.5 L571,489 M546,399.7 L577,408 L590,453 L577.5,490.5 M551,396.5 L582,405 L597,452.5 L584,492 M578.75,455.25 L605.7,452.2 M566,414.75 L585.9,403.4"/>
<ellipse cx="551" cy="450" rx="24" ry="33.5" fill="#fff" stroke-width="1.1" transform="rotate(-4 551 450)"/>
<ellipse cx="551" cy="450" rx="22.3" ry="31.5" transform="rotate(-4 551 450)"/>
<ellipse cx="551.7" cy="448.5" rx="17.6" ry="28.9" fill="#fff" transform="rotate(-4 551.7 448.5)"/>
<ellipse cx="551.7" cy="448.5" rx="16" ry="27" transform="rotate(-4 551.7 448.5)"/>
<path d="M567.16,447.42 L562.67,447.73 M567.01,455.11 L562.57,453.21 M565.5,462.22 L561.49,458.26 M562.76,468.1 L559.55,462.45 M559.04,472.25 L556.91,465.4 M554.66,474.28 L553.81,466.85 M550.03,474.03 L550.52,466.66 M545.54,471.5 L547.33,464.87 M541.6,466.93 L544.53,461.62 M538.56,460.73 L542.37,457.2 M536.68,453.43 L541.04,452.01 M536.14,445.7 L540.66,446.51 M536.98,438.22 L541.25,441.18 M539.13,431.65 L542.78,436.51 M542.4,426.58 L545.1,432.9 M546.49,423.45 L548,430.68 M551.05,422.56 L551.23,430.04 M555.66,423.96 L554.51,431.04 M559.92,427.55 L557.53,433.59 M563.45,433 L560.04,437.47 M565.94,439.82 L561.81,442.33" stroke-width="2.0"/>
<ellipse cx="551.7" cy="448.5" rx="11" ry="18.5" fill="#fff" transform="rotate(-4 551.7 448.5)"/>
<ellipse cx="550" cy="451" rx="7.5" ry="13" transform="rotate(-4 550 451)"/>
<path d="M515,444 L543.5,438 L552.5,460.5 L519.5,465Z" fill="#fff" stroke="none"/>
<path d="M515,444 L543.5,438 M519.5,465 L552.5,460.5"/>
<path d="M515.5,443 L516.5,440.5 L543,436 L543.5,438.5" fill="#fff"/>
<ellipse cx="514.25" cy="454.5" rx="6.75" ry="10.5" fill="#fff" stroke-width="1.2"/>
<ellipse cx="514.25" cy="454.5" rx="3.5" ry="5"/>
<ellipse cx="514.25" cy="454.5" rx="1.8" ry="2.5"/>
<g stroke="#8e8e8e">
<g transform="matrix(1.08497,-0.000649,-0.004266,1.07804,176.996,210.485)" stroke-dasharray="3.6 2.2" stroke-width="0.9">
<path d="M263.7,116 L272.5,118.7 L279.4,120.6 L279.4,134.4 M263.7,119.5 L279.4,122.5"/>
<path d="M232.5,51.6 L237,26 L239.25,25 L257.25,22.4 L263.6,45.6 L263.7,139.4 L233,144.4Z" fill="#fff" stroke="none"/>
<path d="M257.25,22.4 L263.6,45.6 L263.7,139.4 M237,26 L242.25,49.75 L241.5,142.5 M240,25.4 L246,49 L246,141 M252,23.5 L258.75,46.4 L258.7,140 M232.5,51.6 L263.6,45.25"/>
<path d="M134.4,17.5 L162.4,9.6 L172.9,7.9 L189.5,4.9 L221.25,12.25 L257.25,22.4 L239.25,25 L235,34.75 L223.5,36.6 L232.5,51.6 L232.5,128 L200,132.5 L192.5,133 L133,113 L133,37Z" fill="#fff" stroke="none"/>
<path d="M134.4,17.5 L162.4,9.6 L172.9,7.9 L189.5,4.9 M133,37 L133,113 M134.4,17.5 L134.4,24.5 L189.5,37.6 L200,39.5 L235,34.75 M134.4,19.5 L187.7,33.2 L192,34 L235.5,28 L239.25,25 M173.7,8.7 L239.25,25 M189.5,4.9 L257.25,22.4 M175.5,7.5 L256,23.5 M210,18.25 L239.25,25 M235.5,28 L235,34.75"/>
<path d="M192.5,37.6 L192.5,133 M200,39.5 L200,133 M223.5,33 L223.5,129 M223.5,36 L232.5,51 L232.5,128 M134.4,24.5 L133,37"/>
<path d="M192.3,58.4 L199.7,58.4 L222.6,54.8 M192.3,60.7 L199.7,60.7 L222.6,57.1 M192.3,78 L199.7,78 L222.6,74.4 M192.3,80.3 L199.7,80.3 L222.6,76.7 M192.3,97 L199.7,97 L222.6,93.4 M192.3,99.3 L199.7,99.3 L222.6,95.7 M192.3,115.3 L199.7,115.3 L222.6,111.7 M192.3,117.6 L199.7,117.6 L222.6,114"/>
<ellipse cx="203.3" cy="108.9" rx="2.6" ry="2.6" stroke-width="1.3"/>
<ellipse cx="203.3" cy="108.9" rx="1.2" ry="1.2"/>
<ellipse cx="138" cy="18.5" rx="2.5" ry="1.6" fill="#fff" stroke-width="1.2"/>
<ellipse cx="138" cy="18.2" rx="1.38" ry="0.88" fill="#555" stroke-width="0.6"/>
<ellipse cx="155" cy="22.5" rx="3.5" ry="1.8" fill="#fff" stroke-width="1.2"/>
<ellipse cx="155" cy="22.2" rx="1.93" ry="0.99" fill="#555" stroke-width="0.6"/>
<ellipse cx="171" cy="23" rx="3" ry="1.5" fill="#fff" stroke-width="1.2"/>
<ellipse cx="171" cy="22.7" rx="1.65" ry="0.83" fill="#555" stroke-width="0.6"/>
<ellipse cx="174" cy="28" rx="3.5" ry="1.8" fill="#fff" stroke-width="1.2"/>
<ellipse cx="174" cy="27.7" rx="1.93" ry="0.99" fill="#555" stroke-width="0.6"/>
<ellipse cx="167" cy="10.5" rx="3" ry="1.4" fill="#fff" stroke-width="1.2"/>
<ellipse cx="167" cy="10.2" rx="1.65" ry="0.77" fill="#555" stroke-width="0.6"/>
<ellipse cx="187" cy="15.5" rx="3" ry="1.5" fill="#fff" stroke-width="1.2"/>
<ellipse cx="187" cy="15.2" rx="1.65" ry="0.83" fill="#555" stroke-width="0.6"/>
<ellipse cx="208" cy="21.5" rx="3" ry="1.5" fill="#fff" stroke-width="1.2"/>
<ellipse cx="208" cy="21.2" rx="1.65" ry="0.83" fill="#555" stroke-width="0.6"/>
<ellipse cx="194" cy="34" rx="3.5" ry="1.8" fill="#fff" stroke-width="1.2"/>
<ellipse cx="194" cy="33.7" rx="1.93" ry="0.99" fill="#555" stroke-width="0.6"/>
<ellipse cx="229" cy="28.5" rx="3" ry="1.8" fill="#fff" stroke-width="1.2"/>
<ellipse cx="229" cy="28.2" rx="1.65" ry="0.99" fill="#555" stroke-width="0.6"/>
<ellipse cx="213.8" cy="8.3" rx="6" ry="7.6" stroke-width="1.1"/>
<ellipse cx="213.8" cy="8.3" rx="3.6" ry="5"/>
<path d="M210,15 L208,18 L219,18 L217,15"/>
<ellipse cx="174" cy="114" rx="11" ry="14" fill="#fff" stroke-width="1.3"/>
<ellipse cx="174" cy="114.5" rx="9" ry="11.8"/>
<ellipse cx="154" cy="109" rx="8.5" ry="7.75" fill="#fff" stroke-width="1.3"/>
<ellipse cx="154" cy="109.5" rx="6.3" ry="5.6"/>
<path d="M110,120 L131.9,113.7 L146.9,121.2 L147.5,135.6 L126.2,139.4 L110,134.4Z" fill="#fff"/>
<path d="M110,120 L126.2,125.6 L146.9,121.2 M126.2,125.6 L126.2,139.4 M110,122 L126.2,127.6 L147,123"/>
<ellipse cx="126.9" cy="119" rx="4" ry="1.5"/>
<path d="M147.5,135.6 L162.5,138.7"/>
<path d="M162.5,134.4 L176,130 L200,134 L204.4,133.7 L204.4,150 L180,153.7 L162.5,148.7Z" fill="#fff"/>
<path d="M162.5,134.4 L180,140 L204.4,136 M180,140 L180,153.7 M162.5,136.5 L180,142 L204,138"/>
<ellipse cx="177.5" cy="133.6" rx="4" ry="1.5"/>
<path d="M180,153.7 L206,150 L210,147.5 L231,143.7 L233,144.4 L263.7,139.4 L280,135 M200.6,132 L231,128 M203.7,133.7 L231.9,129.4"/>
<path d="M133,37 L151,31 L175,38 L185,57.5 L185,100 L164,103.5 L158,105.5 L147,106 L138,102 L130,98.5 L124.5,88.5 L122.5,49.4Z" fill="#fff"/>
<path d="M133,37 L155,43.7 L165,61.2 L164,99.5 L164,103.5 M175,38 L155,43.7 M165,61.2 L185,57.5 M126,49 L134.5,38.5 M126,88 L131.5,97"/>
<ellipse cx="143.6" cy="75" rx="18" ry="27.5" fill="#fff" stroke-width="1.1" transform="rotate(-8 143.6 75)"/>
<ellipse cx="143.6" cy="75" rx="16.3" ry="25.5" transform="rotate(-8 143.6 75)"/>
<ellipse cx="143.6" cy="75" rx="15" ry="23.5" transform="rotate(-8 143.6 75)"/>
<path d="M158.06,72.97 L154.29,73.5 M157.89,83.79 L154.18,81.58 M154.45,92.59 L151.65,88.16 M148.52,97.37 L147.27,91.73 M141.47,97.02 L142.05,91.46 M134.9,91.62 L137.18,87.42 M130.33,82.42 L133.79,80.54 M128.8,71.52 L132.64,72.38 M130.66,61.42 L134.01,64.83 M135.48,54.42 L137.57,59.61 M142.17,52.14 L142.51,57.91 M149.18,55.1 L147.71,60.13 M154.91,62.62 L151.96,65.75" stroke-width="1.3"/>
<ellipse cx="143.6" cy="75" rx="10.8" ry="17.2" fill="#fff" transform="rotate(-8 143.6 75)"/>
<ellipse cx="142.6" cy="76" rx="8" ry="13" transform="rotate(-8 142.6 76)"/>
<ellipse cx="141.6" cy="76.5" rx="6.5" ry="10.5" transform="rotate(-8 141.6 76.5)"/>
<ellipse cx="143.9" cy="75.3" rx="5.7" ry="13.4" fill="#fff" stroke-width="1.1" transform="rotate(-6 143.9 75.3)"/>
<ellipse cx="143" cy="75.8" rx="4.2" ry="11.5" transform="rotate(-6 143 75.8)"/>
<path d="M112.5,70.5 L138.2,66.4 L144.3,84.3 L116.3,88.3Z" fill="#fff" stroke="none"/>
<path d="M115,70 L138.2,66.4 M116.3,88.3 L144.3,84.3"/>
<path d="M113.4,67.2 L137.4,63.9 L138.2,66.4 L115,70Z" fill="#fff"/>
<ellipse cx="111.9" cy="79.6" rx="6.7" ry="10.2" fill="#fff" stroke-width="1.4"/>
<ellipse cx="111.9" cy="79.6" rx="4" ry="6"/>
<ellipse cx="111.9" cy="79.6" rx="1.8" ry="2.8"/>
</g>
</g>
<path d="M460,248 C470,255 477,266 477.5,279 C477.8,291 471,301 462.7,306.7" stroke-width="1.1"/>
<path d="M462,253 C469,260 473.5,269 474,279 C474.3,290 469,299 462.5,303" stroke-width="0.7"/>
<path d="M462.7,262.7 L469.3,270.7 L469.3,297.3 L462.7,301.3" stroke-width="0.9"/>
<path d="M476.5,266.5 C486,266 486.5,280 477,280.5" stroke-width="1.1"/>
<path d="M474,262 L476,266" stroke-width="1.3"/>
<g stroke="#8e8e8e">
<g transform="matrix(0.9644,-0.00297,-0.00412,0.954,189.04,417.5)" stroke-dasharray="3.4 2.1" stroke-width="0.9">
<path d="M263.7,116 L272.5,118.7 L279.4,120.6 L279.4,134.4 M263.7,119.5 L279.4,122.5"/>
<path d="M232.5,51.6 L237,26 L239.25,25 L257.25,22.4 L263.6,45.6 L263.7,139.4 L233,144.4Z" fill="#fff" stroke="none"/>
<path d="M257.25,22.4 L263.6,45.6 L263.7,139.4 M237,26 L242.25,49.75 L241.5,142.5 M240,25.4 L246,49 L246,141 M252,23.5 L258.75,46.4 L258.7,140 M232.5,51.6 L263.6,45.25"/>
<path d="M134.4,17.5 L162.4,9.6 L172.9,7.9 L189.5,4.9 L221.25,12.25 L257.25,22.4 L239.25,25 L235,34.75 L223.5,36.6 L232.5,51.6 L232.5,128 L200,132.5 L192.5,133 L133,113 L133,37Z" fill="#fff" stroke="none"/>
<path d="M134.4,17.5 L162.4,9.6 L172.9,7.9 L189.5,4.9 M133,37 L133,113 M134.4,17.5 L134.4,24.5 L189.5,37.6 L200,39.5 L235,34.75 M134.4,19.5 L187.7,33.2 L192,34 L235.5,28 L239.25,25 M173.7,8.7 L239.25,25 M189.5,4.9 L257.25,22.4 M175.5,7.5 L256,23.5 M210,18.25 L239.25,25 M235.5,28 L235,34.75"/>
<path d="M192.5,37.6 L192.5,133 M200,39.5 L200,133 M223.5,33 L223.5,129 M223.5,36 L232.5,51 L232.5,128 M134.4,24.5 L133,37"/>
<path d="M192.3,58.4 L199.7,58.4 L222.6,54.8 M192.3,60.7 L199.7,60.7 L222.6,57.1 M192.3,78 L199.7,78 L222.6,74.4 M192.3,80.3 L199.7,80.3 L222.6,76.7 M192.3,97 L199.7,97 L222.6,93.4 M192.3,99.3 L199.7,99.3 L222.6,95.7 M192.3,115.3 L199.7,115.3 L222.6,111.7 M192.3,117.6 L199.7,117.6 L222.6,114"/>
<ellipse cx="203.3" cy="108.9" rx="2.6" ry="2.6" stroke-width="1.3"/>
<ellipse cx="203.3" cy="108.9" rx="1.2" ry="1.2"/>
<ellipse cx="138" cy="18.5" rx="2.5" ry="1.6" fill="#fff" stroke-width="1.2"/>
<ellipse cx="138" cy="18.2" rx="1.38" ry="0.88" fill="#555" stroke-width="0.6"/>
<ellipse cx="155" cy="22.5" rx="3.5" ry="1.8" fill="#fff" stroke-width="1.2"/>
<ellipse cx="155" cy="22.2" rx="1.93" ry="0.99" fill="#555" stroke-width="0.6"/>
<ellipse cx="171" cy="23" rx="3" ry="1.5" fill="#fff" stroke-width="1.2"/>
<ellipse cx="171" cy="22.7" rx="1.65" ry="0.83" fill="#555" stroke-width="0.6"/>
<ellipse cx="174" cy="28" rx="3.5" ry="1.8" fill="#fff" stroke-width="1.2"/>
<ellipse cx="174" cy="27.7" rx="1.93" ry="0.99" fill="#555" stroke-width="0.6"/>
<ellipse cx="167" cy="10.5" rx="3" ry="1.4" fill="#fff" stroke-width="1.2"/>
<ellipse cx="167" cy="10.2" rx="1.65" ry="0.77" fill="#555" stroke-width="0.6"/>
<ellipse cx="187" cy="15.5" rx="3" ry="1.5" fill="#fff" stroke-width="1.2"/>
<ellipse cx="187" cy="15.2" rx="1.65" ry="0.83" fill="#555" stroke-width="0.6"/>
<ellipse cx="208" cy="21.5" rx="3" ry="1.5" fill="#fff" stroke-width="1.2"/>
<ellipse cx="208" cy="21.2" rx="1.65" ry="0.83" fill="#555" stroke-width="0.6"/>
<ellipse cx="194" cy="34" rx="3.5" ry="1.8" fill="#fff" stroke-width="1.2"/>
<ellipse cx="194" cy="33.7" rx="1.93" ry="0.99" fill="#555" stroke-width="0.6"/>
<ellipse cx="229" cy="28.5" rx="3" ry="1.8" fill="#fff" stroke-width="1.2"/>
<ellipse cx="229" cy="28.2" rx="1.65" ry="0.99" fill="#555" stroke-width="0.6"/>
<ellipse cx="213.8" cy="8.3" rx="6" ry="7.6" stroke-width="1.1"/>
<ellipse cx="213.8" cy="8.3" rx="3.6" ry="5"/>
<path d="M210,15 L208,18 L219,18 L217,15"/>
<ellipse cx="174" cy="114" rx="11" ry="14" fill="#fff" stroke-width="1.3"/>
<ellipse cx="174" cy="114.5" rx="9" ry="11.8"/>
<ellipse cx="154" cy="109" rx="8.5" ry="7.75" fill="#fff" stroke-width="1.3"/>
<ellipse cx="154" cy="109.5" rx="6.3" ry="5.6"/>
<path d="M110,120 L131.9,113.7 L146.9,121.2 L147.5,135.6 L126.2,139.4 L110,134.4Z" fill="#fff"/>
<path d="M110,120 L126.2,125.6 L146.9,121.2 M126.2,125.6 L126.2,139.4 M110,122 L126.2,127.6 L147,123"/>
<ellipse cx="126.9" cy="119" rx="4" ry="1.5"/>
<path d="M147.5,135.6 L162.5,138.7"/>
<path d="M162.5,134.4 L176,130 L200,134 L204.4,133.7 L204.4,150 L180,153.7 L162.5,148.7Z" fill="#fff"/>
<path d="M162.5,134.4 L180,140 L204.4,136 M180,140 L180,153.7 M162.5,136.5 L180,142 L204,138"/>
<ellipse cx="177.5" cy="133.6" rx="4" ry="1.5"/>
<path d="M180,153.7 L206,150 L210,147.5 L231,143.7 L233,144.4 L263.7,139.4 L280,135 M200.6,132 L231,128 M203.7,133.7 L231.9,129.4"/>
<path d="M133,37 L151,31 L175,38 L185,57.5 L185,100 L164,103.5 L158,105.5 L147,106 L138,102 L130,98.5 L124.5,88.5 L122.5,49.4Z" fill="#fff"/>
<path d="M133,37 L155,43.7 L165,61.2 L164,99.5 L164,103.5 M175,38 L155,43.7 M165,61.2 L185,57.5 M126,49 L134.5,38.5 M126,88 L131.5,97"/>
<ellipse cx="143.6" cy="75" rx="18" ry="27.5" fill="#fff" stroke-width="1.1" transform="rotate(-8 143.6 75)"/>
<ellipse cx="143.6" cy="75" rx="16.3" ry="25.5" transform="rotate(-8 143.6 75)"/>
<ellipse cx="143.6" cy="75" rx="15" ry="23.5" transform="rotate(-8 143.6 75)"/>
<path d="M158.06,72.97 L154.29,73.5 M157.89,83.79 L154.18,81.58 M154.45,92.59 L151.65,88.16 M148.52,97.37 L147.27,91.73 M141.47,97.02 L142.05,91.46 M134.9,91.62 L137.18,87.42 M130.33,82.42 L133.79,80.54 M128.8,71.52 L132.64,72.38 M130.66,61.42 L134.01,64.83 M135.48,54.42 L137.57,59.61 M142.17,52.14 L142.51,57.91 M149.18,55.1 L147.71,60.13 M154.91,62.62 L151.96,65.75" stroke-width="1.3"/>
<ellipse cx="143.6" cy="75" rx="10.8" ry="17.2" fill="#fff" transform="rotate(-8 143.6 75)"/>
<ellipse cx="142.6" cy="76" rx="8" ry="13" transform="rotate(-8 142.6 76)"/>
<ellipse cx="141.6" cy="76.5" rx="6.5" ry="10.5" transform="rotate(-8 141.6 76.5)"/>
<ellipse cx="143.9" cy="75.3" rx="5.7" ry="13.4" fill="#fff" stroke-width="1.1" transform="rotate(-6 143.9 75.3)"/>
<ellipse cx="143" cy="75.8" rx="4.2" ry="11.5" transform="rotate(-6 143 75.8)"/>
<path d="M112.5,70.5 L138.2,66.4 L144.3,84.3 L116.3,88.3Z" fill="#fff" stroke="none"/>
<path d="M115,70 L138.2,66.4 M116.3,88.3 L144.3,84.3"/>
<path d="M113.4,67.2 L137.4,63.9 L138.2,66.4 L115,70Z" fill="#fff"/>
<ellipse cx="111.9" cy="79.6" rx="6.7" ry="10.2" fill="#fff" stroke-width="1.4"/>
<ellipse cx="111.9" cy="79.6" rx="4" ry="6"/>
<ellipse cx="111.9" cy="79.6" rx="1.8" ry="2.8"/>
</g>
</g>
<path d="M419.4,432.9 C427,424 434,420.5 443,420.4 C463,421 478,444 483.5,472 C487,498 477,521 458,526 C453,527 448,527 443.3,525.6" stroke-width="1.1"/>
<path d="M424,428 C431,423 437,421.5 445,422 C462,424 474,446 479.5,472 C483,497 474,518 457,523" stroke-width="0.8"/>
<path d="M446,423.5 C460,427 470,446 474,470 C477,494 470,513 456,519" stroke-width="0.6"/>
<path d="M435,437 L453.75,442.3 L467.3,469.4 L467.3,491.25 L453.75,511 L441.25,505.8 M441.25,453.75 L452.7,470.4 L452.7,493.3 L441.25,505 M453.75,442.3 L441.25,453.75 M467.3,469.4 L452.7,470.4 M467.3,491.25 L452.7,493.3"/>
<path d="M441.25,455 C447,465 449,480 448,492 C447.5,498 445,503 441.25,505" stroke-width="0.8"/>
<ellipse cx="464.2" cy="449.6" rx="1.8" ry="2.8"/>
<ellipse cx="464.2" cy="510" rx="1.8" ry="2.8"/>
<path d="M103,0 L103,203 M499,0 L499,300 M289,413 L485,413 M289,413 L289,589 M103.5,407 L103.5,584 M103.5,407 L287,407" stroke="#f3f3f3" stroke-width="1"/>
</g>
<g class="lbl">
<text x="170.15" y="198.6" font-size="15.97" letter-spacing="0.23">GR..</text>
<text x="383.75" y="202.2" font-size="15.52" letter-spacing="0.0">GRZ..</text>
<text x="561.0" y="288" font-size="20.15" letter-spacing="0.4">GRXF..</text>
<text x="192.25" y="404.6" font-size="17.16" letter-spacing="0.39">GRF..</text>
<text x="364.05" y="409.4" font-size="14.93" letter-spacing="0.41">GR..AD..</text>
<text x="161.15" y="595.6" font-size="14.93" letter-spacing="-0.35">GR..F</text>
<text x="348.65" y="595.6" font-size="15.82" letter-spacing="-0.2">GR..AM..</text>
<text x="589.6" y="593" font-size="21.27" letter-spacing="0.07">GRX..</text>
</g>
</svg></body></html>
